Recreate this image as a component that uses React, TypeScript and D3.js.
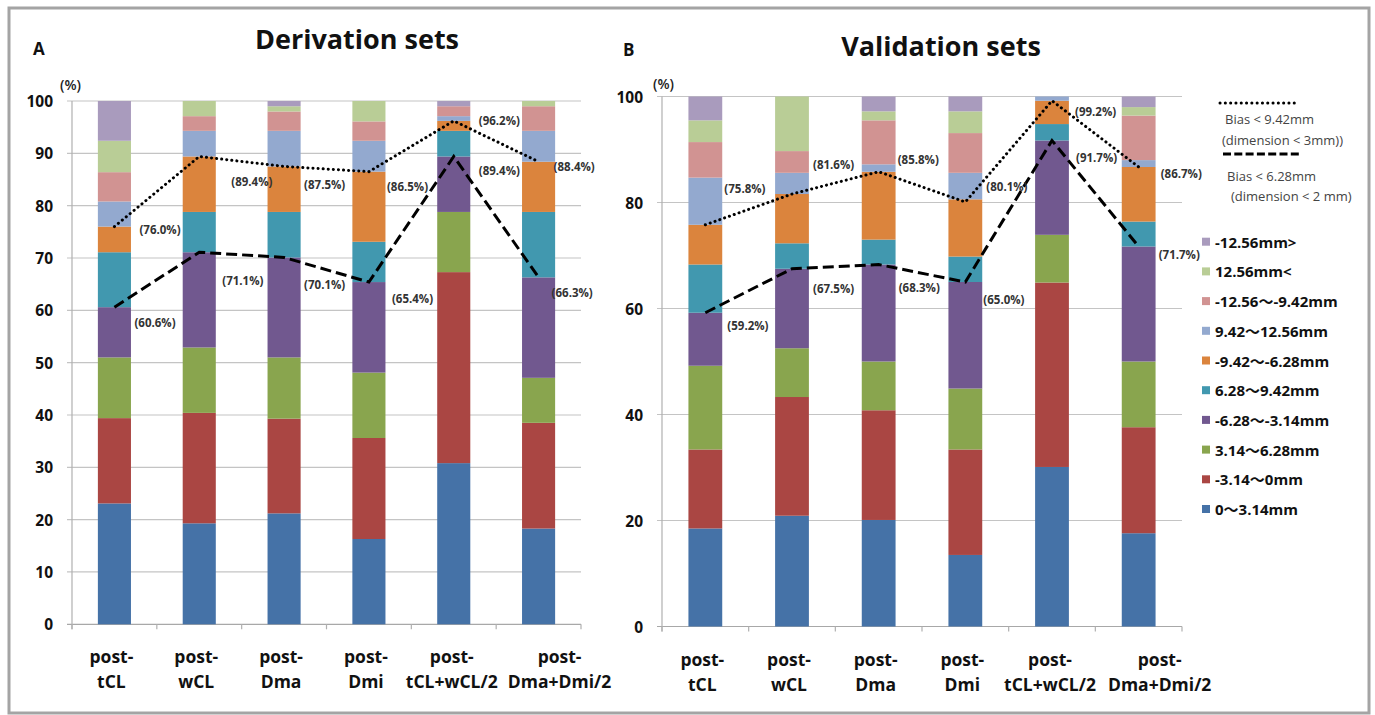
import React from "react";
import * as d3 from "d3";

// ---------- DATA ----------
const categoryLine1 = ["post-", "post-", "post-", "post-", "post-", "post-"];
const categoryLine2 = ["tCL", "wCL", "Dma", "Dmi", "tCL+wCL/2", "Dma+Dmi/2"];

const seriesNames = [
  "0～3.14mm",
  "-3.14～0mm",
  "3.14～6.28mm",
  "-6.28～-3.14mm",
  "6.28～9.42mm",
  "-9.42～-6.28mm",
  "9.42～12.56mm",
  "-12.56～-9.42mm",
  "12.56mm<",
  "-12.56mm>",
];
const seriesColors = [
  "#4572A7", "#AA4643", "#89A54E", "#71588F", "#4198AF",
  "#DB843D", "#93A9CF", "#D19392", "#B9CD96", "#A99BBD",
];

// Derivation sets (A): one array per series, one value per category
const derivA_0_314 = [23.1, 19.3, 21.2, 16.3, 30.8, 18.3];
const derivA_m314_0 = [16.3, 21.1, 18.1, 19.3, 36.5, 20.2];
const derivA_314_628 = [11.6, 12.5, 11.7, 12.5, 11.5, 8.6];
const derivA_m628_m314 = [9.6, 18.2, 19.1, 17.3, 10.6, 19.2];
const derivA_628_942 = [10.5, 7.7, 8.7, 7.7, 4.9, 12.5];
const derivA_m942_m628 = [4.9, 10.6, 8.7, 13.4, 1.9, 9.6];
const derivA_942_1256 = [4.8, 4.9, 6.8, 5.9, 0.9, 5.9];
const derivA_m1256_m942 = [5.6, 2.8, 3.7, 3.7, 1.9, 4.7];
const derivA_gt1256 = [6.0, 2.9, 1.0, 3.9, 0.0, 1.0];
const derivA_ltm1256 = [7.6, 0.0, 1.0, 0.0, 1.0, 0.0];

// Validation sets (B)
const validB_0_314 = [18.5, 20.9, 20.1, 13.5, 30.1, 17.6];
const validB_m314_0 = [14.9, 22.4, 20.7, 19.9, 34.8, 20.0];
const validB_314_628 = [15.8, 9.2, 9.2, 11.5, 9.0, 12.4];
const validB_m628_m314 = [10.0, 15.0, 18.3, 20.1, 17.8, 21.7];
const validB_628_942 = [9.1, 4.8, 4.7, 4.8, 3.1, 4.7];
const validB_m942_m628 = [7.5, 9.3, 12.8, 10.8, 4.4, 10.3];
const validB_942_1256 = [8.9, 4.0, 1.4, 5.0, 0.8, 1.3];
const validB_m1256_m942 = [6.7, 4.1, 8.3, 7.5, 0.0, 8.4];
const validB_gt1256 = [4.1, 10.3, 1.7, 4.1, 0.0, 1.6];
const validB_ltm1256 = [4.5, 0.0, 2.8, 2.8, 0.0, 2.0];

// Cumulative-accuracy lines
const derivDotted = [76.0, 89.4, 87.5, 86.5, 96.2, 88.4];
const derivDashed = [60.6, 71.1, 70.1, 65.4, 89.4, 66.3];
const validDotted = [75.8, 81.6, 85.8, 80.1, 99.2, 86.7];
const validDashed = [59.2, 67.5, 68.3, 65.0, 91.7, 71.7];

const derivTicks = [0, 10, 20, 30, 40, 50, 60, 70, 80, 90, 100];
const validTicks = [0, 20, 40, 60, 80, 100];

const legendLineTexts = [
  "Bias < 9.42mm",
  "(dimension < 3mm))",
  "Bias < 6.28mm",
  "(dimension < 2 mm)",
];

// ---------- LAYOUT (label offsets: [dx from bar centre, dy from point]) ----------
const derivDottedOffsets = [[25, 3], [32, 25], [20, 18], [18, 15], [25, 0], [15, 5]];
const derivDashedOffsets = [[20, 15], [23, 28], [20, 27], [23, 16], [25, 14], [13, 15]];
const validDottedOffsets = [[19, -36], [21, -30], [19, -12], [21, -15], [23, 11], [22, 7]];
const validDashedOffsets = [[22, 13], [21, 20], [20, 23], [18, 17], [24, 17], [20, 8]];
const xLabelShift = [-3, -3, -3, -3, -2, 21];

const FONT = "'Open Sans', 'Noto Sans', 'Noto Sans CJK JP', sans-serif";

function buildRows(seriesArrays: number[][]) {
  return categoryLine2.map((c, i) => {
    const row: any = { cat: c };
    seriesArrays.forEach((arr, s) => (row["s" + s] = arr[i]));
    return row;
  });
}

type PanelProps = {
  x0: number; x1: number; yTop: number; yBottom: number;
  ticks: number[]; series: number[][];
  dotted: number[]; dashed: number[];
  dottedOff: number[][]; dashedOff: number[][];
  title: string; titleX: number; titleY: number;
  letter: string; letterX: number; letterY: number;
  pctDx: number; pctY: number; tickLabelGap: number;
};

function Panel(p: PanelProps) {
  const x = d3.scaleBand<string>().domain(categoryLine2).range([p.x0, p.x1])
    .paddingInner(0.61).paddingOuter(0.305);
  const y = d3.scaleLinear().domain([0, 100]).range([p.yBottom, p.yTop]);
  const keys = seriesNames.map((_, i) => "s" + i);
  const stacked = d3.stack<any>().keys(keys)(buildRows(p.series));
  const cx = (i: number) => (x(categoryLine2[i]) as number) + x.bandwidth() / 2;
  const line = d3.line<number>().x((_, i) => cx(i)).y((v) => y(v));
  const step = x.step();
  return (
    <g fontFamily={FONT}>
      <text x={p.letterX} y={p.letterY} fontSize={17} fontWeight={700} fill="#111">{p.letter}</text>
      <text x={p.titleX} y={p.titleY} fontSize={27} fontWeight={700} textAnchor="middle" fill="#111">{p.title}</text>
      <text x={p.x0 + p.pctDx} y={p.pctY} fontSize={14} fontWeight={600} fill="#222" dominantBaseline="central">(%)</text>
      {/* grid */}
      {p.ticks.map((t) => (
        <g key={t}>
          <line x1={p.x0 - 5} x2={p.x1} y1={y(t)} y2={y(t)} stroke={t === 0 ? "#a8a8a8" : "#c4c4c4"} strokeWidth={1.2} />
          <text x={p.x0 - p.tickLabelGap} y={y(t)} fontSize={15.5} fontWeight={700} textAnchor="end" dominantBaseline="central" fill="#111">{t}</text>
        </g>
      ))}
      <line x1={p.x0} x2={p.x0} y1={p.yTop} y2={p.yBottom + 5} stroke="#b0b0b0" strokeWidth={1.2} />
      {d3.range(categoryLine2.length + 1).map((i) => (
        <line key={i} x1={p.x0 + i * step} x2={p.x0 + i * step} y1={p.yBottom} y2={p.yBottom + 5} stroke="#b0b0b0" strokeWidth={1.2} />
      ))}
      {/* bars */}
      {stacked.map((layer, s) => (
        <g key={s} fill={seriesColors[s]}>
          {layer.map((d, i) => (
            d[1] - d[0] > 0 ? (
              <rect key={i} x={x(categoryLine2[i])} width={x.bandwidth()} y={y(d[1])} height={y(d[0]) - y(d[1])} />
            ) : null
          ))}
        </g>
      ))}
      {/* lines */}
      <path d={line(p.dotted) as string} fill="none" stroke="#000" strokeWidth={3} strokeDasharray="0.1 5" strokeLinecap="round" />
      <path d={line(p.dashed) as string} fill="none" stroke="#000" strokeWidth={3} strokeDasharray="11 5" />
      {p.dotted.map((v, i) => (
        <text key={"dt" + i} x={cx(i) + p.dottedOff[i][0]} y={y(v) + p.dottedOff[i][1]} fontSize={11.5} fontWeight={700} fill="#333" dominantBaseline="central">({v.toFixed(1)}%)</text>
      ))}
      {p.dashed.map((v, i) => (
        <text key={"ds" + i} x={cx(i) + p.dashedOff[i][0]} y={y(v) + p.dashedOff[i][1]} fontSize={11.5} fontWeight={700} fill="#333" dominantBaseline="central">({v.toFixed(1)}%)</text>
      ))}
      {/* x labels */}
      {categoryLine2.map((c, i) => (
        <text key={c} x={cx(i) + xLabelShift[i]} fontSize={17.5} fontWeight={700} textAnchor="middle" fill="#111">
          <tspan x={cx(i) + xLabelShift[i]} y={p.yBottom + 39}>{categoryLine1[i]}</tspan>
          <tspan x={cx(i) + xLabelShift[i]} y={p.yBottom + 64}>{c}</tspan>
        </text>
      ))}
    </g>
  );
}

export default function App() {
  const derivSeries = [
    derivA_0_314, derivA_m314_0, derivA_314_628, derivA_m628_m314, derivA_628_942,
    derivA_m942_m628, derivA_942_1256, derivA_m1256_m942, derivA_gt1256, derivA_ltm1256,
  ];
  const validSeries = [
    validB_0_314, validB_m314_0, validB_314_628, validB_m628_m314, validB_628_942,
    validB_m942_m628, validB_942_1256, validB_m1256_m942, validB_gt1256, validB_ltm1256,
  ];
  const legendOrder = d3.range(seriesNames.length).reverse();
  return (
    <svg width={1375} height={715} style={{ position: "absolute", left: 0, top: 0, background: "#fff" }}>
      <rect x={0} y={0} width={1375} height={715} fill="#fff" />
      <rect x={9} y={8} width={1360} height={705} fill="none" stroke="#a4a4a4" strokeWidth={3} />
      <Panel x0={72} x1={581} yTop={101} yBottom={624.3} ticks={derivTicks} series={derivSeries}
        dotted={derivDotted} dashed={derivDashed} dottedOff={derivDottedOffsets} dashedOff={derivDashedOffsets}
        title="Derivation sets" titleX={357} titleY={49} letter="A" letterX={33} letterY={55}
        pctDx={-12} pctY={84} tickLabelGap={19} />
      <Panel x0={662} x1={1182} yTop={96.5} yBottom={626.5} ticks={validTicks} series={validSeries}
        dotted={validDotted} dashed={validDashed} dottedOff={validDottedOffsets} dashedOff={validDashedOffsets}
        title="Validation sets" titleX={941} titleY={56} letter="B" letterX={623} letterY={56}
        pctDx={-9} pctY={83} tickLabelGap={19} />
      {/* line legend */}
      <g fontFamily={FONT} fontSize={13} fill="#444">
        <line x1={1220} x2={1298} y1={103} y2={103} stroke="#000" strokeWidth={3} strokeDasharray="0.1 5.2" strokeLinecap="round" />
        <text x={1225} y={119} dominantBaseline="central">{legendLineTexts[0]}</text>
        <text x={1222} y={140} dominantBaseline="central">{legendLineTexts[1]}</text>
        <line x1={1223} x2={1302} y1={154} y2={154} stroke="#000" strokeWidth={3} strokeDasharray="8 3.3" />
        <text x={1227} y={176} dominantBaseline="central">{legendLineTexts[2]}</text>
        <text x={1231} y={196} dominantBaseline="central">{legendLineTexts[3]}</text>
      </g>
      {/* series legend */}
      <g fontFamily={FONT} fontSize={15} fontWeight={700} fill="#111">
        {legendOrder.map((s, k) => (
          <g key={s} transform={`translate(1202, ${241.7 + k * 29.7})`}>
            <rect x={0} y={-4} width={8} height={8} fill={seriesColors[s]} />
            <text x={13} y={0} dominantBaseline="central">{seriesNames[s]}</text>
          </g>
        ))}
      </g>
    </svg>
  );
}
